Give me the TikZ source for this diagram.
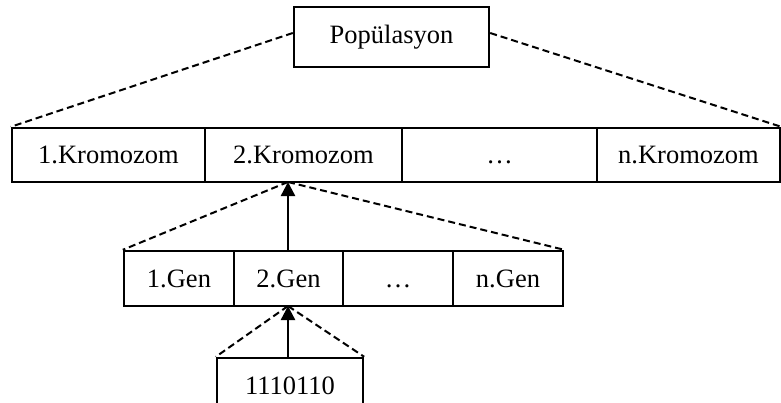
\documentclass[tikz,border=0pt]{standalone}
\usepackage{fontspec}
\setmainfont{Liberation Serif}
\usetikzlibrary{arrows.meta}
\begin{document}
\begin{tikzpicture}[x=1pt,y=-1pt,
  cell/.style={draw,line width=2.4pt,inner sep=0pt,minimum height=54pt,
    text height=17.5pt,text depth=0pt,font=\fontsize{26.5}{30}\selectfont},
  link/.style={line width=2pt,dash pattern=on 7pt off 4pt},
  up/.style={line width=2.4pt,-{Triangle[length=14pt,width=14pt]}}]
\useasboundingbox (0,0) rectangle (781,402);
\clip (0,0) rectangle (781,402);
\node[cell,minimum width=195pt,minimum height=60pt,text depth=5pt] (pop) at (391.5,37) {Popülasyon};
\node[cell,minimum width=193pt] (k1) at (108.5,155) {1.Kromozom};
\node[cell,minimum width=197pt] (k2) at (303.5,155) {2.Kromozom};
\node[cell,minimum width=195pt] (k3) at (499.5,155) {…};
\node[cell,minimum width=183pt] (k4) at (688.5,155) {n.Kromozom};
\node[cell,minimum width=110pt,minimum height=55pt] (g1) at (179,278.5) {1.Gen};
\node[cell,minimum width=109pt,minimum height=55pt] (g2) at (288.5,278.5) {2.Gen};
\node[cell,minimum width=110pt,minimum height=55pt] (g3) at (398,278.5) {…};
\node[cell,minimum width=110pt,minimum height=55pt] (g4) at (508,278.5) {n.Gen};
\node[cell,minimum width=146pt,minimum height=56pt,text depth=-4pt] (b) at (290,386) {1110110};
\coordinate (kt) at (288,182);
\coordinate (gt) at (288,306);
\draw[link] ([yshift=4pt]pop.west) -- (k1.north west);
\draw[link] ([yshift=4pt]pop.east) -- (k4.north east);
\draw[up] (g2.north -| kt) -- (kt);
\draw[link] (kt) -- (g1.north west);
\draw[link] (kt) -- (g4.north east);
\draw[up] (b.north -| gt) -- (gt);
\draw[link] (gt) -- (b.north west);
\draw[link] (gt) -- (b.north east);
\end{tikzpicture}
\end{document}
